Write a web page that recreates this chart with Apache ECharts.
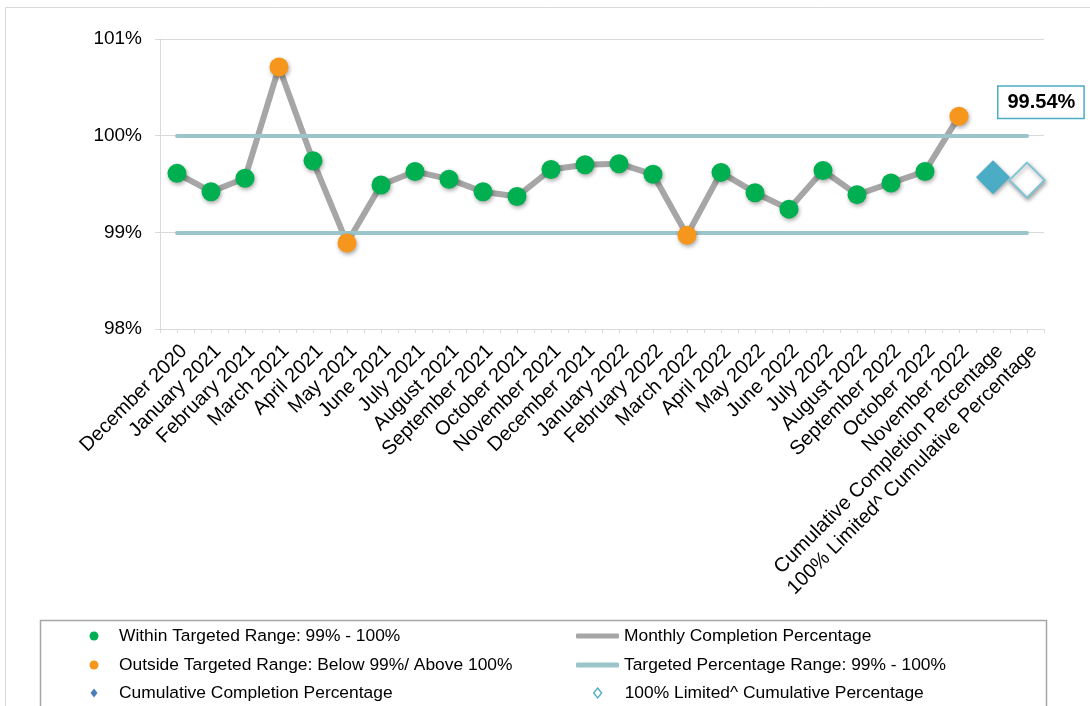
<!DOCTYPE html>
<html>
<head>
<meta charset="utf-8">
<script src="https://cdn.jsdelivr.net/npm/echarts@6/dist/echarts.min.js"></script>
<style>
html,body{margin:0;padding:0;background:#fff;}
#chart{width:1090px;height:706px;}
</style>
</head>
<body>
<div id="chart"></div>
<script>
const categories = ['December 2020','January 2021','February 2021','March 2021','April 2021','May 2021','June 2021','July 2021','August 2021','September 2021','October 2021','November 2021','December 2021','January 2022','February 2022','March 2022','April 2022','May 2022','June 2022','July 2022','August 2022','September 2022','October 2022','November 2022','Cumulative Completion Percentage','100% Limited^ Cumulative Percentage'];
const monthlyValues = [99.61,99.42,99.56,100.71,99.74,98.89,99.49,99.63,99.55,99.42,99.37,99.65,99.70,99.71,99.60,98.97,99.62,99.41,99.24,99.64,99.39,99.51,99.63,100.20];
const cumulativeValue = 99.57;
const limitedValue = 99.54;
const targetRange = [99, 100];
const yTicks = [98, 99, 100, 101];

const NAME_WITHIN = 'Within Targeted Range: 99% - 100%';
const NAME_OUTSIDE = 'Outside Targeted Range: Below 99%/ Above 100%';
const NAME_CUM = 'Cumulative Completion Percentage';
const NAME_MONTHLY = 'Monthly Completion Percentage';
const NAME_TARGET = 'Targeted Percentage Range: 99% - 100%';
const NAME_LIMITED = '100% Limited^ Cumulative Percentage';

const withinData = monthlyValues.map(v => (v >= targetRange[0] && v <= targetRange[1]) ? v : '-');
const outsideData = monthlyValues.map(v => (v >= targetRange[0] && v <= targetRange[1]) ? '-' : v);

const FONT = '"Liberation Sans", Arial, sans-serif';
const shadow = {shadowColor:'rgba(0,0,0,0.35)', shadowBlur:4, shadowOffsetX:1, shadowOffsetY:2};
const noShadow = {shadowBlur:0, shadowOffsetX:0, shadowOffsetY:0, shadowColor:'transparent', opacity:1};

// iconCenterX: centre of the legend symbol; textX: where the text starts
function legendItem(iconCenterX, textX, centerY, item, iconW, iconH, icon) {
  const left = iconCenterX - iconW / 2;
  const pad = textX - (left + iconW + 5);
  const l = {
    orient:'vertical', left:left, top:centerY - 8.5, padding:0,
    itemWidth:iconW, itemHeight:iconH, selectedMode:false, symbolKeepAspect:false,
    textStyle:{fontSize:17.4, color:'#000', fontFamily:FONT, padding:[0,0,0,pad]},
    data:[item]
  };
  if (icon) l.icon = icon;
  return l;
}

const chart = echarts.init(document.getElementById('chart'), null, {renderer:'canvas'});
const firstCat = categories[0], lastCat = categories[categories.length-1];

chart.setOption({
  animation:false,
  backgroundColor:'#fff',
  textStyle:{fontFamily:FONT},
  grid:{left:160, right:46, top:39, bottom:377, containLabel:false},
  graphic:[
    {type:'rect', shape:{x:5.5, y:7.5, width:1100, height:720}, style:{fill:'none', stroke:'#D9D9D9', lineWidth:1}, z:-10, silent:true},
    {type:'rect', shape:{x:40.5, y:620.5, width:1006, height:120}, style:{fill:'none', stroke:'#A6A6A6', lineWidth:1.5}, z:-10, silent:true}
  ],
  xAxis:[{
    type:'category', data:categories, boundaryGap:true,
    axisLine:{show:true, lineStyle:{color:'#D9D9D9', width:1}},
    axisTick:{show:true, length:4, lineStyle:{color:'#D9D9D9'}, interval:0},
    axisLabel:{interval:0, rotate:45, align:'right', verticalAlign:'top', margin:12, fontSize:20, color:'#000', fontFamily:FONT},
    splitLine:{show:false}
  },{
    type:'category', data:categories, boundaryGap:true, position:'bottom',
    axisLine:{show:false},
    axisTick:{show:true, alignWithLabel:true, interval:0, length:4, lineStyle:{color:'#D9D9D9'}},
    axisLabel:{show:false}, splitLine:{show:false}
  }],
  yAxis:{
    type:'value', min:yTicks[0], max:yTicks[yTicks.length-1], interval:1,
    axisLine:{show:true, lineStyle:{color:'#D9D9D9'}},
    axisTick:{show:true, length:5, lineStyle:{color:'#D9D9D9'}},
    splitLine:{show:true, lineStyle:{color:'#D9D9D9', width:1}},
    axisLabel:{formatter: v => v + '%', fontSize:19, color:'#000', margin:18, fontFamily:FONT}
  },
  legend:[
    legendItem(94, 119, 636, {name:NAME_WITHIN, itemStyle:noShadow}, 9, 9, 'circle'),
    legendItem(94, 119, 665, {name:NAME_OUTSIDE, itemStyle:noShadow}, 9, 9, 'circle'),
    legendItem(94, 119, 693, {name:NAME_CUM, itemStyle:Object.assign({color:'#4A7EBB'}, noShadow)}, 7, 9, 'diamond'),
    legendItem(597.5, 624, 636, {name:NAME_MONTHLY}, 43, 5, 'roundRect'),
    legendItem(597.5, 624, 665, {name:NAME_TARGET}, 43, 5, 'roundRect'),
    legendItem(597, 624, 693, {name:NAME_LIMITED, itemStyle:Object.assign({borderWidth:1.3, borderColor:'#4BACC6', color:'#fff'}, noShadow)}, 8, 10, 'diamond')
  ],
  series:[
    {
      name:NAME_MONTHLY, type:'line', data:monthlyValues, symbol:'none', z:2,
      itemStyle:{color:'#A6A6A6'},
      lineStyle:{color:'#A6A6A6', width:6, cap:'round', join:'round'}
    },
    {
      name:NAME_TARGET, type:'line', data:[], symbol:'none', z:3,
      itemStyle:{color:'#9BC5CA'},
      lineStyle:{color:'#9BC5CA', width:5, cap:'round'},
      markLine:{
        silent:true, symbol:'none', label:{show:false},
        lineStyle:{color:'#9BC5CA', width:4, type:'solid', cap:'round'},
        emphasis:{disabled:true},
        data: targetRange.map(t => [{coord:[firstCat, t]}, {coord:[lastCat, t]}])
      }
    },
    {
      name:NAME_WITHIN, type:'scatter', data:withinData, symbol:'circle', symbolSize:19, z:5,
      itemStyle:Object.assign({color:'#00B050', opacity:1}, shadow)
    },
    {
      name:NAME_OUTSIDE, type:'scatter', data:outsideData, symbol:'circle', symbolSize:19, z:5,
      itemStyle:Object.assign({color:'#F7961C', opacity:1}, shadow)
    },
    {
      name:NAME_CUM, type:'scatter', data:[[categories[24], cumulativeValue]], symbol:'diamond', symbolSize:34, z:5,
      itemStyle:Object.assign({color:'#4BACC6', opacity:1}, shadow)
    },
    {
      name:NAME_LIMITED, type:'scatter', data:[[categories[25], limitedValue]], symbol:'diamond', symbolSize:35, z:5,
      itemStyle:Object.assign({color:'#FFFFFF', borderColor:'#7FC3D6', borderWidth:2, opacity:1}, shadow),
      label:{
        show:true, position:[-10,-75], formatter: p => p.value[1].toFixed(2) + '%',
        fontSize:20, fontWeight:'bold', color:'#000', fontFamily:FONT,
        backgroundColor:'#fff', borderColor:'#4BACC6', borderWidth:1.5,
        padding:[5,8,4,9], lineHeight:22
      }
    }
  ]
});
</script>
</body>
</html>
